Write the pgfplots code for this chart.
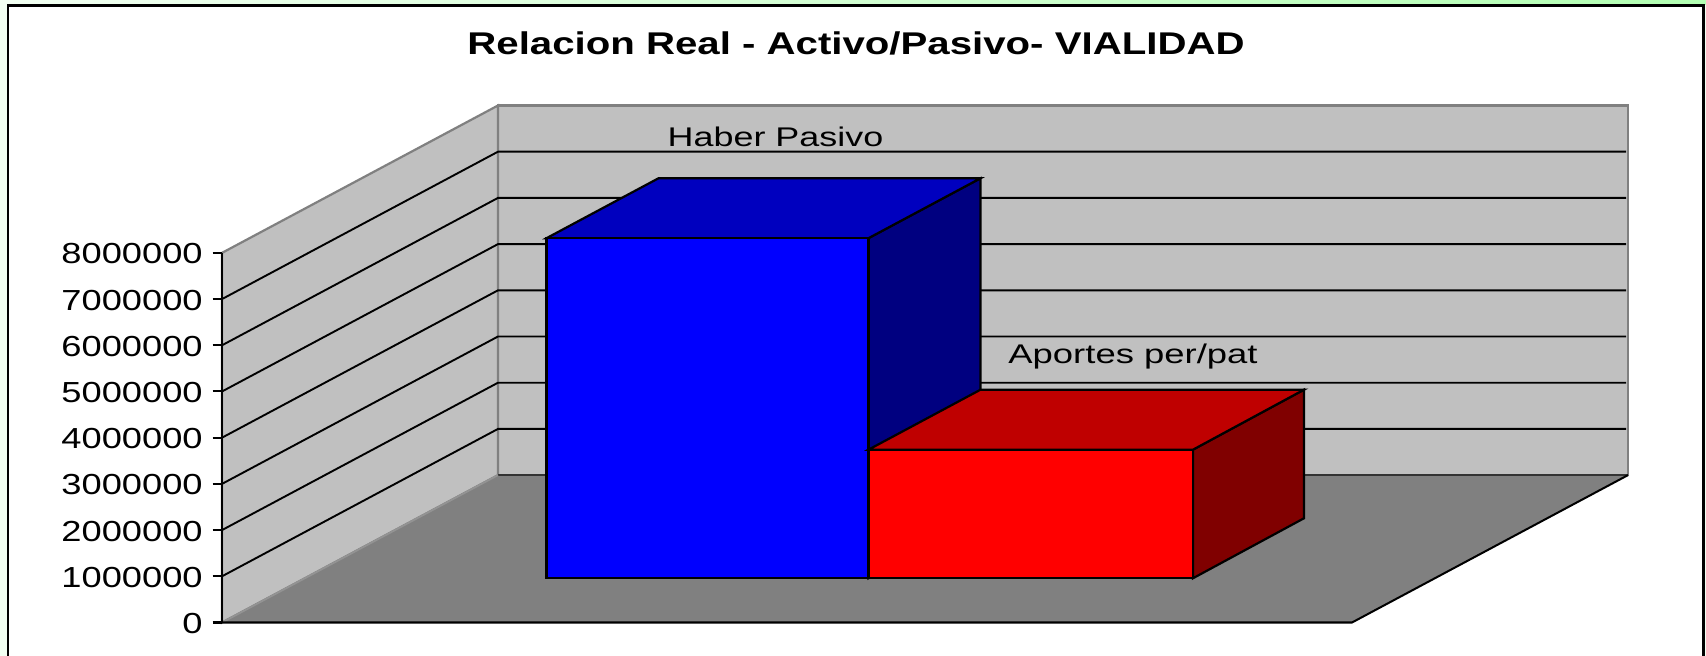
\documentclass[border=0pt]{standalone}
\usepackage{pgfplots}
\pgfplotsset{compat=1.18}
\usepackage{fontspec}
\setmainfont{Liberation Sans}
\newfontfamily\tickfont[FakeStretch=1.25]{Liberation Sans}
\newfontfamily\labfont[FakeStretch=1.33]{Liberation Sans}
\newfontfamily\labfontb[FakeStretch=1.35]{Liberation Sans}
\newfontfamily\titlefont[FakeStretch=1.28]{Liberation Sans}
\definecolor{wall}{HTML}{C0C0C0}
\definecolor{floorc}{HTML}{808080}
\definecolor{mint}{HTML}{F2FFF2}
\begin{document}
\begin{tikzpicture}
\clip (0pt,0pt) rectangle (853pt,-328pt);
\shade[left color=mint,right color=green!30] (0pt,0pt) rectangle (853pt,-328pt);
\fill[mint] (0pt,-2.5pt) rectangle (853pt,-328pt);
\fill[white,draw=black,line width=1.3pt] (4pt,-2.75pt) rectangle (851.75pt,-335pt);
\begin{axis}[
  at={(111pt,-311.25pt)},anchor=south west,
  scale only axis,width=703pt,height=258.5pt,
  xmin=222,xmax=1628,ymin=0,ymax=11190000,
  clip=false,axis on top,
  axis x line=none,
  axis y line=left,
  y axis line style={draw=none,-},
  xtick=\empty,
  ytick={0,1000000,2000000,3000000,4000000,5000000,6000000,7000000,8000000},
  scaled y ticks=false,
  /pgf/number format/fixed,
  /pgf/number format/1000 sep={},
  /pgf/number format/assume math mode=true,
  major tick length=4.75pt,
  tick style={black,line width=1pt},
  tick align=outside,
  yticklabel style={font=\tickfont\fontsize{14.5}{14.5}\selectfont,inner xsep=4.75pt,yshift=-0.5pt},
  every axis plot/.append style={forget plot},
]
% back wall, left wall, floor
\addplot[fill=wall,draw=floorc,line width=1.1pt] coordinates {(498,3190000)(1628,3190000)(1628,11190000)(498,11190000)} -- cycle;
\addplot[fill=wall,draw=floorc,line width=1.1pt] coordinates {(222,0)(498,3190000)(498,11190000)(222,8000000)} -- cycle;
\addplot[fill=floorc,draw=none] coordinates {(222,0)(1352,0)(1628,3190000)(498,3190000)} -- cycle;
\addplot[draw=black!60!floorc,line width=0.9pt] coordinates {(498,3190000)(1628,3190000)};
\addplot[draw=floorc!70!wall,line width=0.9pt] coordinates {(222,0)(498,3190000)};
\addplot[draw=black,line width=1pt] coordinates {(222,0)(1352,0)(1628,3190000)};
\addplot[draw=black,line width=1.1pt] coordinates {(222,0)(222,8000000)};
% gridlines
\addplot[black,line width=0.95pt] coordinates {(222,1000000)(498,4190000)(1626,4190000)};
\addplot[black,line width=0.95pt] coordinates {(222,2000000)(498,5190000)(1626,5190000)};
\addplot[black,line width=0.95pt] coordinates {(222,3000000)(498,6190000)(1626,6190000)};
\addplot[black,line width=0.95pt] coordinates {(222,4000000)(498,7190000)(1626,7190000)};
\addplot[black,line width=0.95pt] coordinates {(222,5000000)(498,8190000)(1626,8190000)};
\addplot[black,line width=0.95pt] coordinates {(222,6000000)(498,9190000)(1626,9190000)};
\addplot[black,line width=0.95pt] coordinates {(222,7000000)(498,10190000)(1626,10190000)};
% Haber Pasivo bar: value 7360000 on base 958000
\addplot[fill={rgb,255:red,0;green,0;blue,128},draw=black,line width=1.1pt] coordinates {(868.5,958000)(980.5,2256000)(980.5,9615000)(868.5,8318000)} -- cycle;
\addplot[fill={rgb,255:red,0;green,0;blue,191},draw=black,line width=1.1pt] coordinates {(546.5,8318000)(868.5,8318000)(980.5,9615000)(658.5,9615000)} -- cycle;
\addplot[fill={rgb,255:red,0;green,0;blue,255},draw=black,line width=1.1pt] coordinates {(546.5,958000)(868.5,958000)(868.5,8318000)(546.5,8318000)} -- cycle;
% Aportes per/pat bar: value 2783000 on base 958000
\addplot[fill={rgb,255:red,128;green,0;blue,0},draw=black,line width=1.1pt] coordinates {(1193,958000)(1304,2256000)(1304,5039000)(1193,3741000)} -- cycle;
\addplot[fill={rgb,255:red,191;green,0;blue,0},draw=black,line width=1.1pt] coordinates {(868.5,3741000)(1193,3741000)(1304,5039000)(980.5,5039000)} -- cycle;
\addplot[fill={rgb,255:red,255;green,0;blue,0},draw=black,line width=1.1pt] coordinates {(868.5,958000)(1193,958000)(1193,3741000)(868.5,3741000)} -- cycle;
\node[font=\labfont\fontsize{13.5}{13.5}\selectfont,inner sep=0pt] at (axis cs:775.5,10520000) {Haber Pasivo};
\node[font=\labfontb\fontsize{13.5}{13.5}\selectfont,inner sep=0pt] at (axis cs:1133,5765000) {Aportes per/pat};
\node[font=\titlefont\bfseries\fontsize{15.7}{15.7}\selectfont,inner sep=0pt] at (axis cs:856,12525000) {Relacion Real - Activo/Pasivo- VIALIDAD};
\end{axis}
\end{tikzpicture}
\end{document}
